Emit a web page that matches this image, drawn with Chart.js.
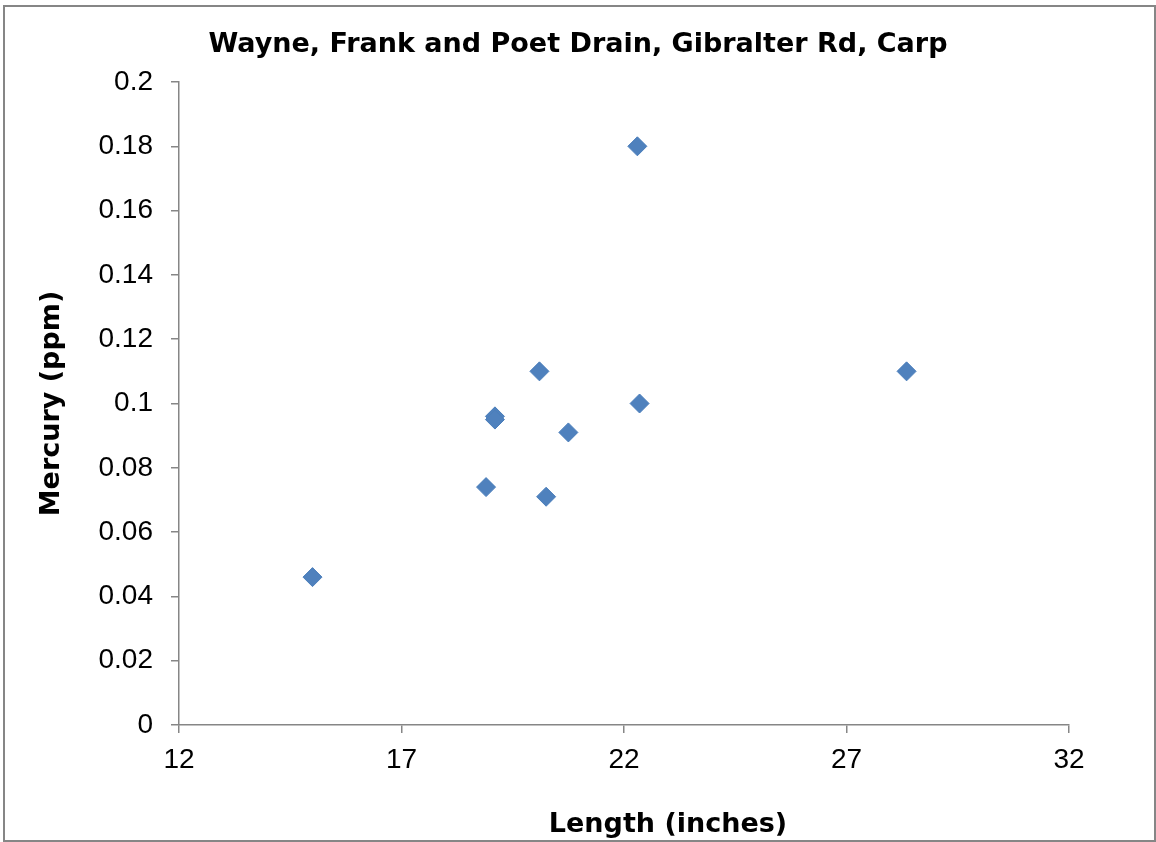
<!DOCTYPE html>
<html>
<head>
<meta charset="utf-8">
<script src="https://cdn.jsdelivr.net/npm/chart.js@4"></script>
<style>
  html, body { margin: 0; padding: 0; background: #ffffff; }
  #wrap { position: relative; width: 1156px; height: 842px; }
</style>
</head>
<body>
<div id="wrap"><canvas id="c"></canvas></div>
<script>
// ---- data ----
const chartTitle = 'Wayne, Frank and Poet Drain, Gibralter Rd, Carp';
const xAxisTitle = 'Length (inches)';
const yAxisTitle = 'Mercury (ppm)';
const lengthInches = [15.0, 18.9, 19.1, 19.1, 20.1, 20.25, 20.75, 22.3, 22.35, 28.35];
const mercuryPpm   = [0.046, 0.074, 0.096, 0.095, 0.110, 0.071, 0.091, 0.180, 0.100, 0.110];
const xTickValues = [12, 17, 22, 27, 32];
const xTickLabels = ['12', '17', '22', '27', '32'];
const yTickValues = [0, 0.02, 0.04, 0.06, 0.08, 0.1, 0.12, 0.14, 0.16, 0.18, 0.2];
const yTickLabels = ['0', '0.02', '0.04', '0.06', '0.08', '0.1', '0.12', '0.14', '0.16', '0.18', '0.2'];

const points = lengthInches.map((x, i) => ({ x: x, y: mercuryPpm[i] }));

const axisGrey = '#868686';
const boldFont = { family: '"DejaVu Sans", sans-serif', size: 27, weight: 'bold', lineHeight: 1.2 };
const tickFont = { family: '"Liberation Sans", Arial, sans-serif', size: 28, lineHeight: 1.2 };

const frameAndTitle = {
  id: 'frameAndTitle',
  beforeDraw(chart) {
    const ctx = chart.ctx;
    ctx.save();
    ctx.fillStyle = '#ffffff';
    ctx.fillRect(0, 0, chart.width, chart.height);
    ctx.strokeStyle = axisGrey;
    ctx.lineWidth = 2;
    ctx.strokeRect(4, 6, 1151, 835);
    ctx.restore();
  },
  afterDraw(chart) {
    const ctx = chart.ctx;
    ctx.save();
    ctx.font = 'bold 27px "DejaVu Sans", sans-serif';
    ctx.fillStyle = '#000000';
    ctx.textAlign = 'center';
    ctx.textBaseline = 'middle';
    ctx.fillText(xAxisTitle, 668, 824.5);
    ctx.restore();
  }
};

new Chart(document.getElementById('c'), {
  type: 'scatter',
  data: {
    datasets: [{
      label: 'Mercury',
      data: points,
      pointStyle: 'rectRot',
      pointRadius: 9.5,
      pointHoverRadius: 9.5,
      backgroundColor: '#4F81BD',
      borderColor: '#4A7EBB',
      borderWidth: 1
    }]
  },
  options: {
    responsive: true,
    maintainAspectRatio: false,
    animation: false,
    devicePixelRatio: 1,
    layout: { padding: { left: 0, right: 0, top: 0, bottom: 0 } },
    plugins: {
      legend: { display: false },
      tooltip: { enabled: false },
      title: {
        display: true,
        text: chartTitle,
        color: '#000000',
        font: boldFont,
        padding: { top: 29, bottom: 20.6 }
      }
    },
    scales: {
      x: {
        type: 'linear',
        min: 12,
        max: 32,
        afterBuildTicks(scale) { scale.ticks = xTickValues.map(v => ({ value: v })); },
        afterFit(scale) { scale.height = 117; },
        ticks: {
          color: '#000000',
          font: tickFont,
          padding: 10,
          maxRotation: 0,
          callback(value) { const i = xTickValues.indexOf(value); return i >= 0 ? xTickLabels[i] : ''; }
        },
        grid: { display: true, drawOnChartArea: false, drawTicks: true, tickLength: 8, color: axisGrey, lineWidth: 1.5 },
        border: { display: true, color: axisGrey, width: 1.5 },
        title: { display: false }
      },
      y: {
        type: 'linear',
        min: 0,
        max: 0.2,
        afterBuildTicks(scale) { scale.ticks = yTickValues.map(v => ({ value: v })); },
        afterFit(scale) { scale.width = 179; },
        ticks: {
          color: '#000000',
          font: tickFont,
          padding: 18,
          callback(value) {
            const i = yTickValues.findIndex(v => Math.abs(v - value) < 1e-9);
            return i >= 0 ? yTickLabels[i] : '';
          }
        },
        grid: { display: true, drawOnChartArea: false, drawTicks: true, tickLength: 8, color: axisGrey, lineWidth: 1.5 },
        border: { display: true, color: axisGrey, width: 1.5 },
        title: {
          display: true,
          text: yAxisTitle,
          color: '#000000',
          font: boldFont,
          padding: { top: 36, bottom: 0 }
        }
      },
      yRightSpace: {
        type: 'linear',
        position: 'right',
        min: 0,
        max: 0.2,
        display: true,
        afterFit(scale) { scale.width = 87; },
        ticks: { display: false },
        grid: { display: false, drawTicks: false },
        border: { display: false },
        title: { display: false }
      }
    }
  },
  plugins: [frameAndTitle]
});
</script>
</body>
</html>
